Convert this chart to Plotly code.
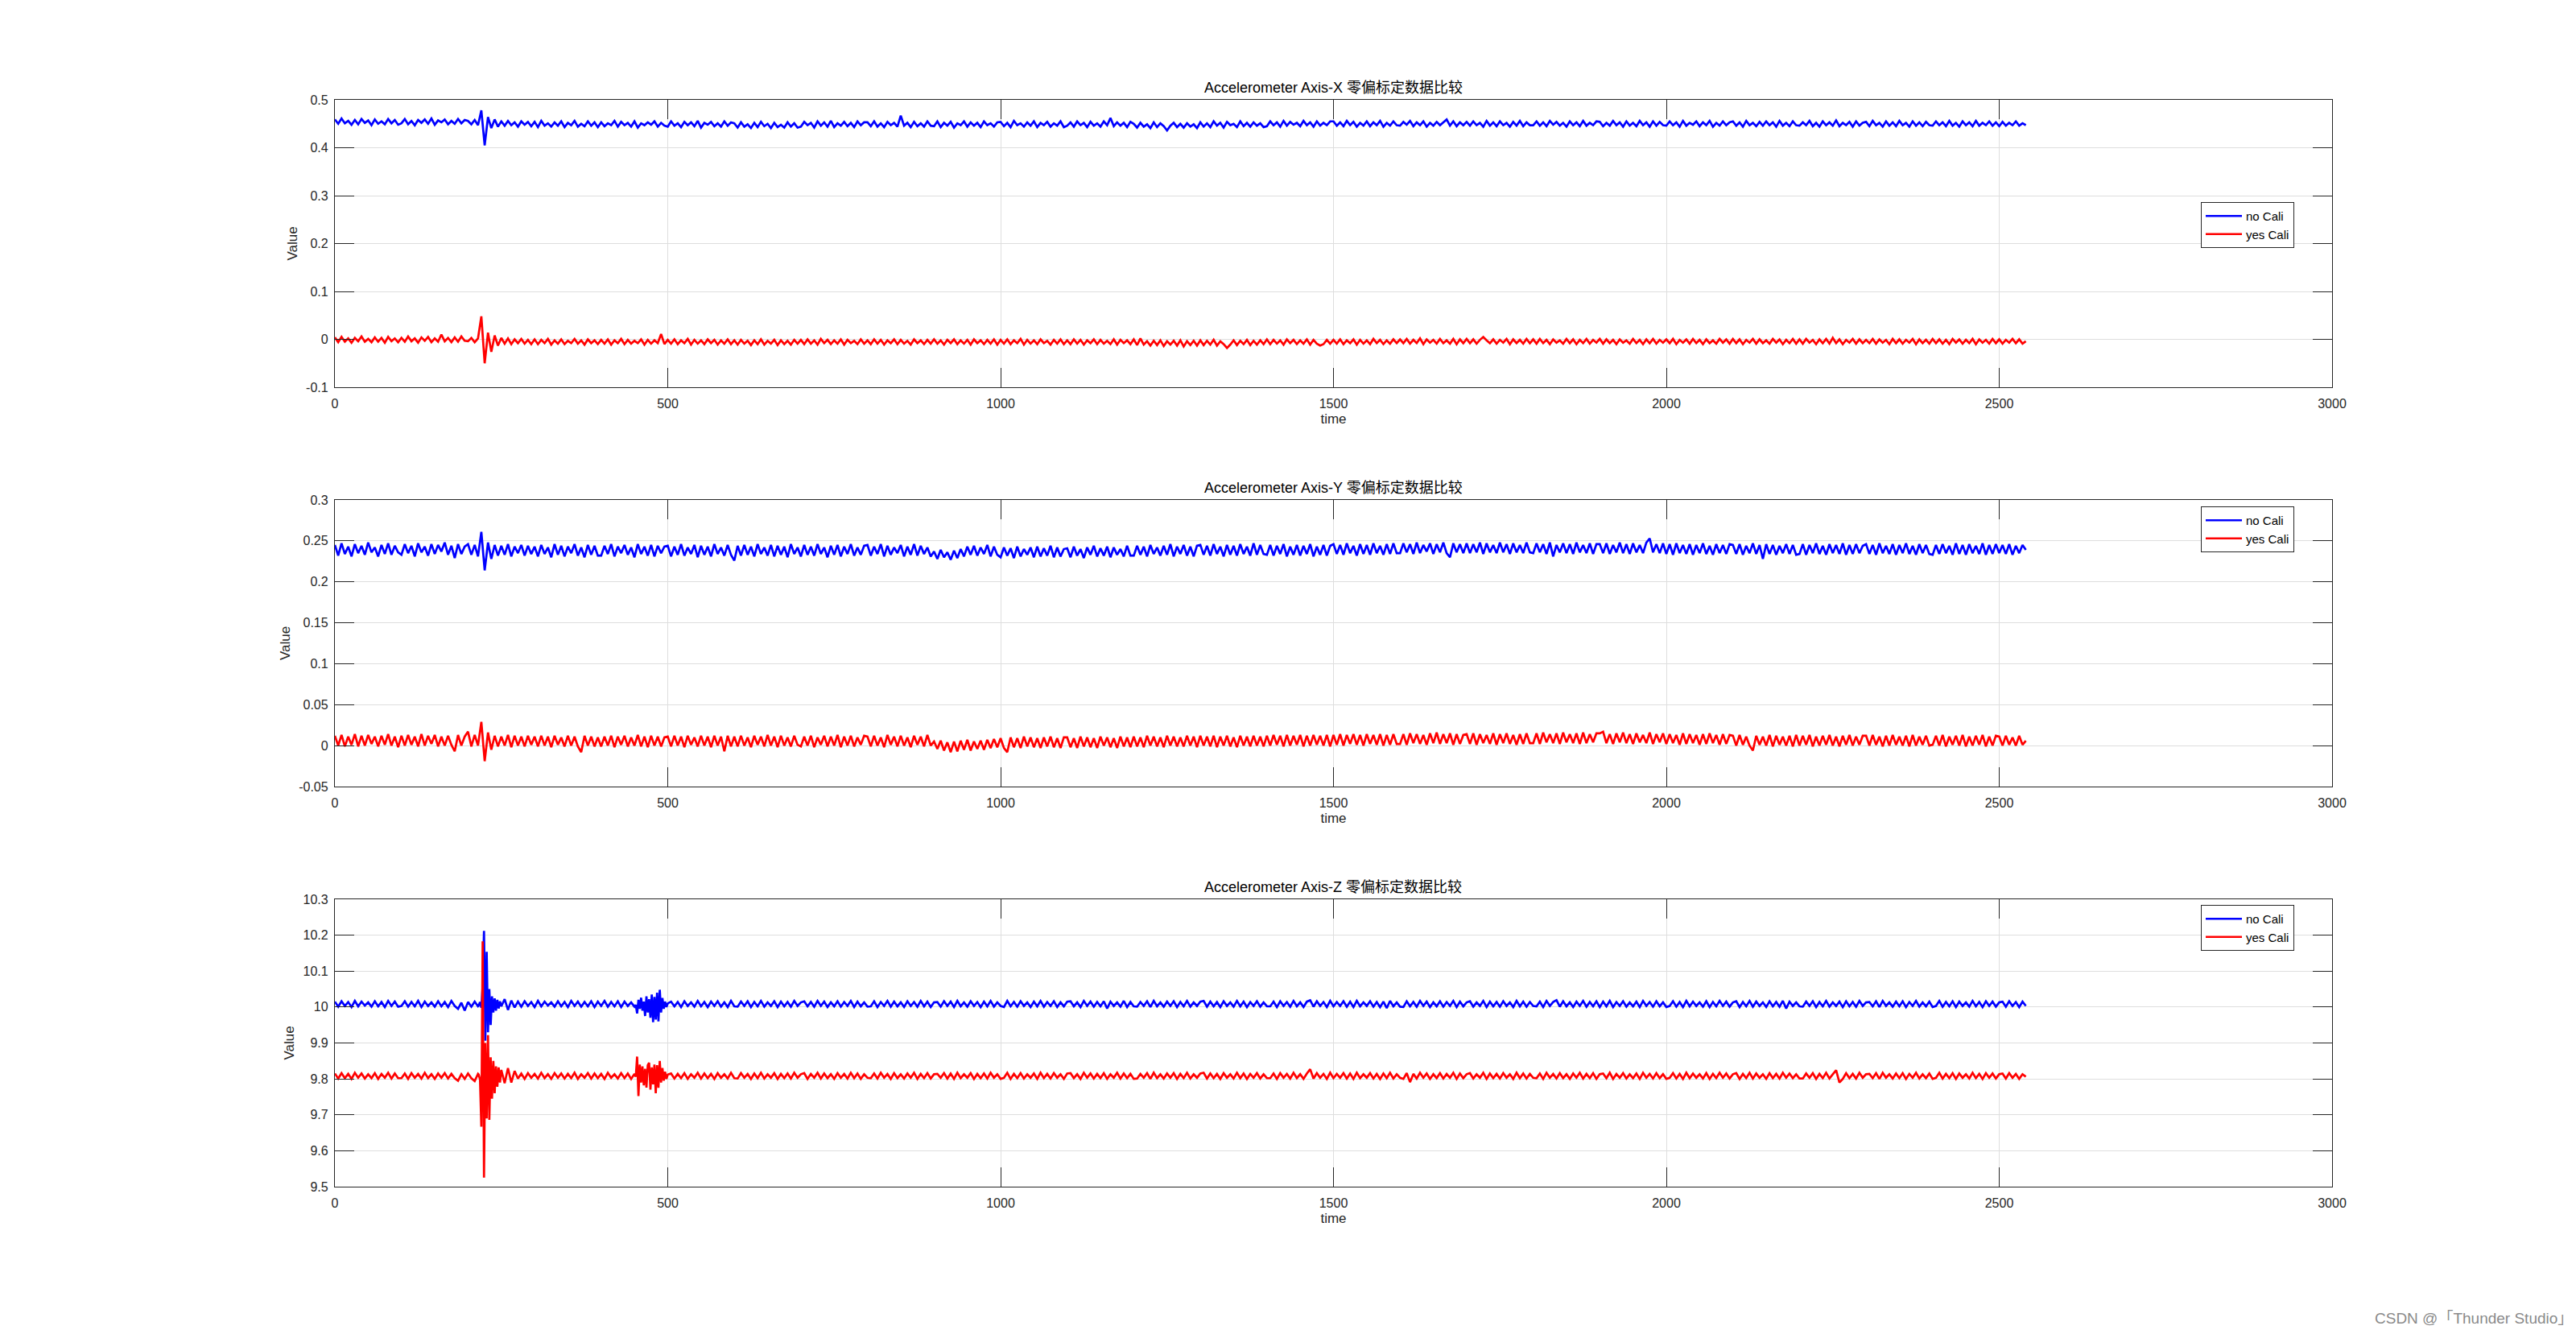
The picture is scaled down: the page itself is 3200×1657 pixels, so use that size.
import plotly.graph_objects as go

# ---------------- data (values in units of 0.001) ----------------
time_xy = list(range(0, 2541, 5))
time_z = (list(range(0, 216, 5)) + list(range(216, 251, 2)) + list(range(255, 451, 5))
          + list(range(452, 501, 2)) + list(range(505, 2541, 5)))

x_no_cali = [
    459,450,461,451,456,448,458,449,460,452,457,447,459,450,455,449,460,451,458,448,
    451,460,449,456,447,458,452,459,450,461,448,457,453,459,449,456,450,460,451,458,
    456,449,458,447,478,405,464,441,459,444,455,446,456,447,453,444,455,448,454,445,
    454,443,456,446,451,444,453,446,455,443,452,447,456,444,450,445,455,446,453,443,
    453,445,451,447,456,444,454,447,452,444,455,442,451,447,453,448,455,444,452,446,
    444,455,446,451,443,454,447,453,445,456,442,452,448,454,445,451,444,455,446,453,
    451,442,453,444,449,441,452,443,454,445,450,441,452,443,448,442,453,444,451,442,
    444,454,447,452,442,455,446,453,444,456,443,451,446,454,445,452,443,455,447,453,
    453,445,455,444,451,443,454,447,452,444,467,446,452,443,454,445,451,444,455,446,
    445,455,443,452,446,454,442,451,447,455,444,453,446,452,443,455,447,451,444,453,
    454,445,452,443,456,447,451,444,453,446,455,443,452,447,454,444,451,446,455,443,
    446,453,444,455,447,452,443,454,446,451,444,455,447,462,445,453,446,452,443,454,
    450,442,452,444,449,441,453,443,451,445,436,446,452,443,450,442,451,444,449,441,
    453,444,451,443,455,446,452,442,454,447,450,443,455,445,452,444,453,446,451,443,
    445,455,447,453,444,456,446,454,448,452,445,456,447,453,444,455,446,452,447,455,
    455,446,453,445,456,447,454,444,452,446,455,445,453,447,456,444,452,446,455,447,
    446,454,448,456,445,453,447,455,444,452,446,454,447,453,459,446,455,445,453,447,
    454,446,455,447,452,444,456,446,453,445,455,447,452,444,454,446,456,445,453,447,
    447,455,446,453,445,456,448,454,446,452,444,455,447,453,445,456,446,452,447,455,
    454,445,452,446,456,447,453,444,455,446,452,445,456,447,453,444,455,446,454,447,
    446,455,447,453,444,456,446,452,448,455,445,453,447,456,444,452,446,455,447,453,
    455,446,453,444,456,447,452,445,454,446,455,447,453,444,456,446,452,445,455,447,
    446,453,447,456,445,452,444,455,447,453,446,457,445,452,447,454,444,455,446,452,
    454,445,456,447,452,444,455,446,453,445,456,447,452,444,455,446,453,445,454,447,
    446,455,447,453,445,456,446,452,444,455,447,453,445,456,446,452,447,455,446,453,
    445,454,446,452,447,455,446,451,447,
]

x_yes_cali = [
    4,-6,5,-5,2,-7,3,-4,6,-5,1,-6,4,-5,3,-7,5,-4,2,-6,
    3,-5,6,-4,2,-7,4,-3,5,-6,2,-5,10,-4,3,-6,4,-5,6,-3,
    -4,3,-6,2,48,-50,14,-26,8,-13,3,-9,2,-10,0,-8,1,-9,-1,-10,
    0,-10,-1,-8,1,-11,-2,-9,0,-10,-3,-8,1,-9,-2,-11,0,-8,-2,-10,
    -1,-9,0,-11,-2,-8,1,-10,-1,-9,-3,-8,0,-11,-1,-9,-2,-8,11,-10,
    -1,-9,0,-10,-2,-8,1,-11,-1,-9,-2,-10,0,-8,-1,-11,-2,-9,0,-10,
    -2,-11,-1,-9,-3,-12,-2,-10,0,-11,-3,-9,-1,-12,-2,-10,-3,-11,-1,-9,
    -1,-10,0,-9,-2,-11,1,-8,-1,-10,-2,-9,0,-11,-1,-8,-3,-10,0,-9,
    -2,-10,0,-9,-1,-11,-2,-8,0,-10,-1,-9,-3,-11,0,-8,-2,-10,-1,-9,
    0,-9,-2,-11,-1,-8,0,-10,-2,-9,-1,-11,0,-8,-2,-10,-1,-9,0,-11,
    -1,-9,0,-10,-2,-8,1,-11,-1,-9,-2,-10,0,-8,-3,-11,-1,-9,0,-10,
    -2,-10,0,-9,-1,-11,-2,-8,0,-10,-1,-9,-3,-10,0,-11,-1,-8,-2,-10,
    0,-12,2,-11,-4,-13,-3,-12,-2,-14,-4,-11,-3,-13,-2,-15,-4,-12,-3,-13,
    -2,-12,-3,-11,-1,-13,-4,-10,-18,-11,-2,-12,-3,-10,-1,-12,-3,-11,-2,-10,
    0,-10,-1,-9,-2,-11,0,-8,-1,-10,-2,-9,0,-11,-1,-9,-13,-10,-1,-9,
    -1,-9,0,-10,-2,-8,0,-11,-1,-9,-2,-10,1,-8,-1,-10,-2,-9,0,-8,
    0,-8,1,-9,-1,-8,2,-10,0,-7,-1,-9,1,-8,-2,-9,1,-10,0,-8,
    1,-8,0,-9,-1,5,-2,-8,0,-9,-1,-7,1,-10,0,-8,-1,-9,1,-8,
    0,-9,1,-8,-1,-10,0,-7,-2,-9,1,-8,0,-10,-1,-8,1,-9,-1,-7,
    1,-9,0,-8,-1,-10,0,-7,-2,-9,1,-8,-1,-10,0,-8,1,-9,-1,-7,
    0,-8,1,-10,-1,-7,0,-9,1,-8,-1,-10,0,-8,-2,-9,1,-7,0,-9,
    1,-8,0,-10,-1,-7,1,-9,0,-8,-2,-9,1,-7,0,-10,-1,-8,1,-9,
    0,-9,1,-7,-1,-10,0,-8,1,-9,3,-8,0,-10,-1,-7,1,-9,0,-8,
    -1,-8,1,-9,0,-7,-1,-10,1,-8,0,-9,-1,-7,1,-10,0,-8,-1,-9,
    1,-8,0,-9,-1,-10,1,-7,0,-9,-1,-8,1,-10,0,-7,-1,-9,1,-8,
    0,-9,-1,-7,1,-8,0,-9,-4,
]

y_no_cali = [
    245,232,247,234,243,231,246,235,244,233,248,236,242,231,245,234,247,233,244,236,
    233,246,235,244,231,247,236,243,232,246,234,245,237,248,233,244,229,246,234,243,
    246,233,245,231,261,214,248,228,245,232,244,233,246,231,243,235,245,232,244,234,
    243,231,245,234,242,230,246,233,244,231,243,235,246,232,242,230,245,233,244,232,
    232,244,234,246,231,243,235,245,233,242,230,246,234,243,232,245,231,244,235,243,
    244,231,243,233,246,232,242,234,245,230,244,233,243,231,246,234,242,232,245,233,
    226,244,232,245,233,243,231,246,234,242,232,245,231,244,233,243,230,246,234,242,
    231,245,233,243,232,246,234,242,230,244,233,245,231,243,234,246,232,242,233,244,
    245,232,243,234,246,231,244,233,242,235,245,231,243,233,246,232,244,234,242,231,
    237,228,239,230,236,227,238,229,240,231,243,233,244,232,242,234,245,231,243,233,
    230,242,232,241,229,243,231,240,233,242,230,243,231,241,232,244,230,242,231,240,
    241,230,243,232,240,229,242,233,244,231,241,232,243,230,242,233,240,231,244,232,
    232,244,233,243,231,245,234,242,232,244,233,246,231,243,234,245,232,243,231,244,
    245,233,244,232,246,234,243,231,245,233,244,232,246,234,243,232,247,233,245,234,
    233,245,232,244,234,246,231,243,233,245,232,244,234,246,231,243,233,245,232,244,
    246,234,245,233,247,235,244,232,246,234,245,233,247,235,244,233,246,234,247,235,
    235,247,236,246,234,248,235,245,237,247,234,246,236,248,235,230,247,236,246,235,
    247,235,246,236,248,234,247,236,245,235,248,236,246,234,247,236,245,235,248,236,
    235,247,236,246,234,248,231,245,236,247,235,246,234,248,236,245,235,247,234,246,
    246,235,247,234,245,236,248,235,246,234,247,236,245,235,248,253,236,246,235,247,
    234,246,233,247,235,245,234,246,233,245,235,247,234,244,233,246,235,245,234,246,
    245,234,246,233,244,235,247,234,245,228,246,234,245,233,244,235,246,234,245,233,
    234,246,233,245,235,247,234,244,233,246,235,245,234,247,233,245,234,246,235,244,
    246,234,245,233,247,235,244,234,246,233,245,235,247,234,244,233,246,235,245,234,
    233,245,234,246,235,244,233,247,234,245,233,246,235,244,234,247,233,245,234,246,
    235,245,234,246,233,244,235,245,239,
]

y_yes_cali = [
    12,0,13,-1,11,1,14,-1,12,0,13,2,11,-1,12,1,14,0,11,-2,
    12,0,13,1,11,-1,14,0,12,2,13,-1,11,0,12,1,-7,13,0,11,
    17,-1,13,0,29,-19,16,-5,12,-1,11,0,13,-2,12,0,11,-1,12,1,
    11,-1,12,0,11,-2,12,1,10,-1,12,0,11,-1,-8,12,0,11,-1,10,
    -1,11,0,12,-2,11,1,12,-1,10,0,13,-1,11,-2,12,0,11,-1,10,
    11,-1,12,0,11,-2,12,1,10,-1,12,0,11,-2,12,0,11,-7,12,-1,
    11,-1,12,0,10,-2,12,1,11,-1,13,0,11,-2,12,0,10,-1,12,1,
    -1,11,0,12,-2,10,1,12,-1,11,0,13,-2,11,0,12,-1,10,1,12,
    11,-1,12,0,10,-2,13,1,11,-1,12,0,10,-2,12,1,11,-1,13,0,
    5,-4,6,-6,4,-8,5,-7,6,-5,7,-6,5,-4,6,-5,7,-3,8,-2,
    9,-3,-8,10,-2,9,-3,11,-1,10,-2,9,-3,10,-1,11,-2,9,-3,10,
    10,-2,9,-3,11,-1,10,-2,9,-3,11,0,10,-2,9,-3,11,-1,10,-2,
    11,-1,10,-2,12,0,11,-1,10,-2,12,0,11,-1,10,-1,12,0,11,-2,
    12,0,11,-1,12,-2,11,0,12,-1,10,-2,12,0,11,-1,12,0,11,-1,
    12,0,13,1,12,-1,13,0,12,1,13,-1,12,0,13,1,12,0,13,-1,
    13,1,14,0,13,2,14,1,13,0,14,2,13,1,14,0,13,1,14,2,
    2,14,1,15,3,14,2,13,1,15,3,16,2,14,3,15,1,14,2,13,
    14,2,15,1,14,3,13,2,15,1,14,3,15,2,13,1,14,2,15,3,
    3,15,2,16,4,14,3,15,2,16,4,14,3,15,2,16,3,14,4,15,
    15,17,3,14,2,15,4,16,3,14,2,15,4,13,3,16,2,14,4,15,
    2,14,3,13,1,15,2,14,3,13,1,14,2,15,3,13,1,14,2,13,
    12,0,13,1,11,0,-6,12,1,11,0,13,-1,12,1,11,0,12,-1,13,
    0,12,1,13,-1,11,0,12,1,13,0,11,-1,12,1,13,0,11,1,12,
    12,0,13,1,11,-1,12,0,13,1,11,0,12,-1,13,0,11,1,12,0,
    1,12,0,13,-1,11,1,12,0,13,-1,11,0,12,1,13,-1,11,0,12,
    11,0,12,1,10,0,12,1,6,
]

z_no_cali = [
    10015,10001,10016,10003,10014,10000,10017,10002,10015,10004,10013,10001,10016,10002,10014,10000,10017,10003,10015,10001,
    10003,10016,10001,10014,10002,10017,10000,10015,10003,10013,10001,10016,10002,10014,10000,10017,10003,9995,10012,9990,
    10014,10001,10015,10002,
    10004,10014,9998,10060,10212,9906,10154,9930,10050,9950,10030,9985,10024,9990,10020,9996,10016,10002,
    10022,9992,10018,9999,
    10015,10001,10016,10003,10014,10000,10017,10002,10015,10004,10013,10001,10016,10002,10014,10000,10017,10003,
    10015,10001,10014,10002,10016,10000,10015,10003,10017,10001,10014,10002,10016,10000,10015,10003,10013,10001,
    10006,9982,10020,9995,10026,9990,10015,9975,10030,9985,10022,9970,10035,9958,10028,9965,10040,9960,10048,9985,
    10025,9995,10015,10000,10010,
    10015,10002,10014,10000,10016,10003,10013,10001,10017,10002,10014,10000,10015,10003,10016,10001,10013,10000,10017,10002,
    10001,10015,10003,10016,10000,10014,10002,10017,10001,10013,10003,10016,10000,10015,10002,10014,10001,10017,10003,10013,
    10016,10002,10014,10001,10017,10003,10015,10000,10013,10002,10016,10001,10014,10003,10017,10000,10015,10002,10013,10001,
    10002,10016,10000,10014,10003,10017,10001,10015,10002,10013,10000,10016,10003,10014,10001,10017,10002,10015,10000,10013,
    10014,10001,10016,10003,10015,10000,10017,10002,10013,10001,10016,10003,10014,10000,10015,10002,10017,10001,10013,10003,
    10000,10017,10002,10014,10001,10016,10003,10013,10000,10015,10002,10017,10001,10014,10003,10016,10000,10013,10002,10015,
    10016,10002,10013,10000,10017,10003,10015,10001,10014,10002,10016,9996,10015,10003,10013,10001,10017,10000,10014,10002,
    10001,10014,10003,10016,10000,10017,10002,10013,10001,10015,10003,10016,10000,10014,10002,10017,10001,10013,10003,10015,
    10017,10001,10015,10002,10014,10000,10016,10003,10013,10001,10017,10002,10015,10000,10014,10003,10016,10001,10013,10002,
    10002,10015,10000,10016,10003,10014,10001,10017,10002,10013,10000,10015,10019,10001,10016,10003,10014,10000,10017,10002,
    10014,10003,10016,10001,10015,10000,10017,10002,10013,10003,10016,10001,10014,10000,10015,9997,10017,10002,10013,10001,
    10000,10016,10002,10014,10001,10017,10003,10015,10000,10013,10002,10016,10001,10014,10003,10017,10000,10015,10002,10013,
    10016,10001,10013,10003,10017,10000,10015,10002,10014,10001,10016,10003,10013,10000,10017,10002,10015,10001,10014,10003,
    10002,10015,10000,10017,10003,10014,10019,10001,10016,10002,10013,10000,10015,10003,10017,10001,10014,10002,10016,10000,
    10015,10002,10017,10000,10014,10003,10016,10001,10013,10002,10015,10000,10017,10003,10014,10001,10016,10002,10013,10000,
    10003,10016,10001,10014,10000,10017,10002,10015,10003,10013,10001,10016,10000,10014,10002,10017,10003,10015,10001,10013,
    10016,10000,10014,10002,10017,10001,10015,10003,10013,10000,10016,10002,10014,10001,10017,9996,10015,10003,10013,10002,
    10001,10015,10003,10016,10000,10014,10002,10017,10001,10013,10003,10015,10000,10016,10002,10014,10001,10017,10003,10013,
    10014,10002,10016,10000,10017,10003,10013,10001,10015,10002,10016,10000,10014,10003,10017,10001,10013,10002,10015,10000,
    10003,10017,10001,10014,10002,10016,10000,10015,10003,10013,10001,10017,10002,10014,10000,10016,10003,10015,10001,10013,
    10015,10001,10016,10003,10014,10000,10015,10003,
]

z_yes_cali = [
    9815,9801,9816,9802,9814,9800,9817,9803,9815,9801,9813,9802,9816,9800,9814,9803,9817,9801,9815,9802,
    9802,9815,9800,9816,9803,9814,9801,9817,9802,9813,9800,9815,9803,9816,9801,9814,9802,9795,9813,9800,
    9815,9802,9794,9814,
    9812,9798,9667,10183,9525,9900,9690,9922,9686,9860,9745,9850,9760,9835,9778,9832,9790,9825,
    9788,9830,9790,9822,
    9801,9815,9800,9816,9803,9814,9801,9817,9802,9813,9800,9816,9803,9815,9801,9814,9802,9817,
    9800,9813,9803,9816,9801,9815,9802,9814,9800,9817,9803,9813,9801,9816,9802,9815,9800,9814,
    9806,9862,9752,9840,9790,9835,9782,9828,9776,9838,9845,9770,9832,9785,9840,9760,9838,9775,9850,9790,
    9830,9795,9820,9800,9812,
    9815,9801,9814,9802,9816,9800,9813,9803,9817,9801,9815,9802,9814,9800,9816,9803,9813,9801,9817,9802,
    9801,9816,9803,9814,9800,9815,9802,9817,9801,9813,9803,9816,9800,9814,9802,9815,9801,9817,9803,9813,
    9816,9800,9814,9803,9817,9801,9815,9802,9813,9800,9816,9803,9814,9801,9817,9802,9815,9800,9813,9803,
    9802,9815,9801,9817,9803,9814,9800,9816,9802,9813,9801,9815,9803,9817,9800,9814,9802,9816,9801,9813,
    9814,9803,9816,9801,9815,9800,9817,9802,9813,9803,9816,9800,9814,9802,9815,9801,9817,9803,9813,9800,
    9803,9817,9800,9814,9802,9816,9801,9813,9803,9815,9800,9817,9802,9814,9801,9816,9803,9813,9800,9815,
    9816,9802,9813,9800,9817,9803,9815,9801,9814,9802,9816,9800,9813,9803,9817,9801,9815,9802,9814,9800,
    9801,9814,9803,9816,9800,9817,9802,9813,9801,9815,9803,9816,9800,9814,9802,9817,9801,9813,9803,9815,
    9817,9801,9815,9802,9814,9800,9816,9803,9813,9801,9817,9802,9815,9800,9814,9803,9816,9801,9813,9802,
    9802,9815,9800,9816,9803,9814,9801,9817,9802,9813,9800,9815,9827,9801,9816,9803,9814,9800,9817,9802,
    9814,9803,9816,9801,9815,9800,9817,9802,9813,9803,9816,9801,9814,9800,9815,9802,9817,9801,9813,9803,
    9800,9816,9791,9814,9801,9817,9803,9815,9800,9813,9802,9816,9801,9814,9803,9817,9800,9815,9802,9813,
    9816,9801,9813,9803,9817,9800,9815,9802,9814,9801,9816,9803,9813,9800,9817,9802,9815,9801,9814,9803,
    9802,9815,9800,9817,9803,9814,9801,9816,9802,9813,9800,9815,9803,9817,9801,9814,9802,9816,9800,9813,
    9815,9802,9817,9800,9814,9803,9816,9801,9813,9802,9815,9800,9817,9803,9814,9801,9816,9802,9813,9800,
    9803,9816,9801,9814,9800,9817,9802,9815,9803,9813,9801,9816,9800,9814,9802,9817,9803,9815,9801,9813,
    9816,9800,9814,9802,9817,9801,9815,9803,9813,9800,9816,9802,9814,9801,9817,9803,9815,9802,9813,9801,
    9801,9815,9803,9816,9800,9814,9802,9817,9801,9813,9824,9790,9800,9816,9802,9814,9801,9817,9803,9813,
    9814,9802,9816,9800,9817,9803,9813,9801,9815,9802,9816,9800,9814,9803,9817,9801,9813,9802,9815,9800,
    9803,9817,9801,9814,9802,9816,9800,9815,9803,9813,9801,9817,9802,9814,9800,9816,9803,9815,9801,9813,
    9815,9801,9816,9803,9814,9800,9813,9806,
]

series_names = ["no Cali", "yes Cali"]
series_colors = ["#0000ff", "#ff0000"]
titles = ["Accelerometer Axis-X 零偏标定数据比较",
          "Accelerometer Axis-Y 零偏标定数据比较",
          "Accelerometer Axis-Z 零偏标定数据比较"]
x_tick_vals = [0, 500, 1000, 1500, 2000, 2500, 3000]
y_ticks_x = [-0.1, 0, 0.1, 0.2, 0.3, 0.4, 0.5]
y_ticks_x_text = ["-0.1", "0", "0.1", "0.2", "0.3", "0.4", "0.5"]
y_ticks_y = [-0.05, 0, 0.05, 0.1, 0.15, 0.2, 0.25, 0.3]
y_ticks_y_text = ["-0.05", "0", "0.05", "0.1", "0.15", "0.2", "0.25", "0.3"]
y_ticks_z = [9.5, 9.6, 9.7, 9.8, 9.9, 10.0, 10.1, 10.2, 10.3]
y_ticks_z_text = ["9.5", "9.6", "9.7", "9.8", "9.9", "10", "10.1", "10.2", "10.3"]

for arr, t in [(x_no_cali, time_xy), (x_yes_cali, time_xy), (y_no_cali, time_xy),
               (y_yes_cali, time_xy), (z_no_cali, time_z), (z_yes_cali, time_z)]:
    assert len(arr) == len(t), (len(arr), len(t))

# ---------------- figure ----------------
W, H = 3200, 1657

def px_x(x):
    return x / W

def px_y(y):
    return 1 - y / H

FONT = "Liberation Sans, Arial, Noto Sans CJK SC, sans-serif"
AX = "#262626"
GRID = "#dedede"
XDOM = [px_x(416), px_x(2897)]
YDOMS = [[px_y(481), px_y(124)],
         [px_y(977), px_y(621)],
         [px_y(1474), px_y(1117)]]

fig = go.Figure()
panels = [
    (time_xy, x_no_cali, x_yes_cali),
    (time_xy, y_no_cali, y_yes_cali),
    (time_z, z_no_cali, z_yes_cali),
]
for k, (tt, a, b) in enumerate(panels):
    sfx = "" if k == 0 else str(k + 1)
    leg = "legend" if k == 0 else "legend" + str(k + 1)
    for vals, nm, col in zip([a, b], series_names, series_colors):
        fig.add_trace(go.Scatter(
            x=tt, y=[v / 1000 for v in vals], mode="lines", name=nm,
            line=dict(color=col, width=2.7, simplify=False),
            xaxis="x" + sfx, yaxis="y" + sfx, legend=leg, hoverinfo="skip"))

def xaxis(anchor):
    return dict(domain=XDOM, anchor=anchor, range=[0, 3000], tickvals=x_tick_vals,
                ticktext=[str(v) for v in x_tick_vals], showgrid=True, gridcolor=GRID,
                gridwidth=1, zeroline=False, showline=True, linecolor=AX, linewidth=1.3,
                mirror="ticks", ticks="inside", ticklen=24, tickwidth=1.3, tickcolor=AX,
                ticklabelstandoff=6, automargin=False,
                tickfont=dict(family=FONT, size=16, color=AX),
                title=dict(text="time", font=dict(family=FONT, size=17, color=AX), standoff=4))

def yaxis(anchor, dom, rng, tv, tt):
    return dict(domain=dom, anchor=anchor, range=rng, tickvals=tv, ticktext=tt,
                showgrid=True, gridcolor=GRID, gridwidth=1, zeroline=False, showline=True,
                linecolor=AX, linewidth=1.3, mirror="ticks", ticks="inside", ticklen=24,
                tickwidth=1.3, tickcolor=AX, ticklabelstandoff=4, automargin=False,
                tickfont=dict(family=FONT, size=16, color=AX),
                title=dict(text="Value", font=dict(family=FONT, size=17, color=AX), standoff=6))

def legend(ytop):
    return dict(x=px_x(2734), y=ytop, xanchor="left", yanchor="top", bgcolor="white",
                bordercolor=AX, borderwidth=1, font=dict(family=FONT, size=15, color="black"),
                tracegroupgap=0, itemwidth=45)

layout = dict(
    width=W, height=H, autosize=False,
    margin=dict(l=0, r=0, t=0, b=0, pad=0, autoexpand=False),
    paper_bgcolor="white", plot_bgcolor="white", showlegend=True,
    xaxis=xaxis("y"), xaxis2=xaxis("y2"), xaxis3=xaxis("y3"),
    yaxis=yaxis("x", YDOMS[0], [-0.1, 0.5], y_ticks_x, y_ticks_x_text),
    yaxis2=yaxis("x2", YDOMS[1], [-0.05, 0.3], y_ticks_y, y_ticks_y_text),
    yaxis3=yaxis("x3", YDOMS[2], [9.5, 10.3], y_ticks_z, y_ticks_z_text),
    legend=legend(px_y(251)), legend2=legend(px_y(629)), legend3=legend(px_y(1124)),
)
fig.update_layout(**layout)

for k, ttl in enumerate(titles):
    fig.add_annotation(text=ttl, xref="paper", yref="paper", x=(XDOM[0] + XDOM[1]) / 2,
                       y=YDOMS[k][1], xanchor="center", yanchor="bottom", yshift=3,
                       showarrow=False, font=dict(family=FONT, size=18, color="black"))

fig.add_annotation(text="CSDN @「Thunder Studio」", xref="paper", yref="paper", x=1, y=px_y(1637),
                   xanchor="right", yanchor="middle", xshift=-2, showarrow=False,
                   font=dict(family=FONT, size=19, color="#8a8a8a"))

fig.write_html("out.html")
